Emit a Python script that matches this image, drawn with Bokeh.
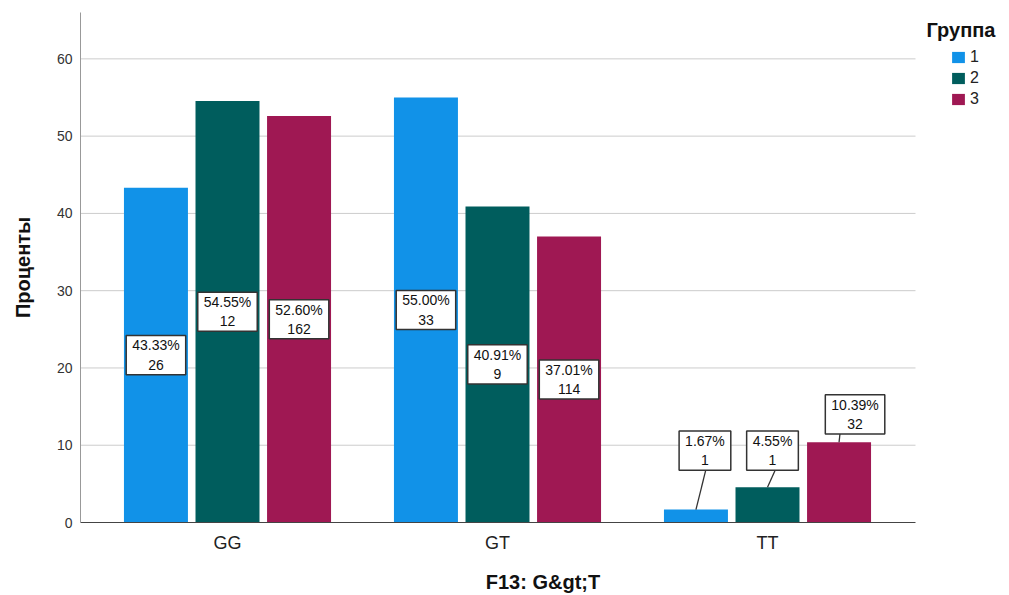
from bokeh.plotting import figure
from bokeh.models import (Range1d, ColumnDataSource, Legend, LegendItem,
                          Label, FixedTicker)
from bokeh.core.properties import value
from bokeh.embed import file_html
from bokeh.resources import INLINE

# ---- data ----
categories = ["GG", "GT", "TT"]
groups = ["1", "2", "3"]
pct_group1 = [43.33, 55.00, 1.67]
pct_group2 = [54.55, 40.91, 4.55]
pct_group3 = [52.60, 37.01, 10.39]
cnt_group1 = [26, 33, 1]
cnt_group2 = [12, 9, 1]
cnt_group3 = [162, 114, 32]
y_ticks = [0, 10, 20, 30, 40, 50, 60]

colors = ["#1192e8", "#005d5d", "#9f1853"]
FONT = "Liberation Sans"

# ---- layout ----
W, H = 1005, 595
LEFT, TOP = 80, 12
FRAME_W = W - LEFT            # frame reaches the right edge (legend lives inside it)
FRAME_H = 510
Y_MAX = 66
CAT_PX = 270.0                # pixel width of one category slot
START = -12 / CAT_PX
END = START + FRAME_W / CAT_PX
PLOT_END = START + 835 / CAT_PX   # end of the visible plotting area (grid / axis)
px_per_unit = FRAME_H / Y_MAX

cat_pos = [i + 0.5 for i in range(len(categories))]

p = figure(width=W, height=H, output_backend="svg", toolbar_location=None,
           x_range=Range1d(START, END), y_range=Range1d(0, Y_MAX),
           min_border_left=LEFT, min_border_right=0,
           min_border_top=TOP, min_border_bottom=H - TOP - FRAME_H)
p.outline_line_color = None
p.background_fill_color = "white"

# gridlines limited to the plotting area
p.xgrid.grid_line_color = None
p.ygrid.grid_line_color = None
gl = [t for t in y_ticks if t > 0]
p.segment(x0=[START] * len(gl), y0=gl, x1=[PLOT_END] * len(gl), y1=gl,
          line_color="#cccccc", line_width=1)

offsets = [-0.265, 0.0, 0.265]
bar_w = 0.237
pcts = [pct_group1, pct_group2, pct_group3]
cnts = [cnt_group1, cnt_group2, cnt_group3]

# label placement for small bars (above bar, with leader line):
# group index -> (label centre y, label x shift px, leader-top x shift px)
small_layout = {0: (9.3, 9, 10), 1: (9.3, 5, 8), 2: (14.0, 16, 1)}
box_half = 18.8 / px_per_unit

renderers = []
for gi in range(3):
    xs = [c + offsets[gi] for c in cat_pos]
    src = ColumnDataSource(dict(x=xs, val=pcts[gi]))
    r = p.vbar(x="x", top="val", width=bar_w, source=src,
               fill_color=colors[gi], line_color=None)
    renderers.append(r)

    lx, ly, lt = [], [], []
    for ci, cat in enumerate(categories):
        v = pcts[gi][ci]
        t = f"{v:.2f}%\n{cnts[gi][ci]}"
        if cat == "TT":
            y_lab, dx, dline = small_layout[gi]
            x_lab = xs[ci] + dx / CAT_PX
            p.segment(x0=[xs[ci] + dline / CAT_PX], y0=[y_lab - box_half],
                      x1=[xs[ci]], y1=[v], line_color="#333333", line_width=1.3)
        else:
            x_lab = xs[ci]
            y_lab = v / 2
        lx.append(x_lab); ly.append(y_lab); lt.append(t)
    tsrc = ColumnDataSource(dict(x=lx, y=ly, t=lt))
    p.text(x="x", y="y", text="t", source=tsrc,
           text_font=value(FONT), text_font_size="14px", text_color="#111111",
           text_align="center", text_baseline="middle", text_line_height=1.2,
           background_fill_color="white", border_line_color="#333333",
           border_line_width=1.5, padding=(6, 2))

# axes
p.yaxis.ticker = FixedTicker(ticks=y_ticks)
p.yaxis.axis_line_color = "#999999"
p.yaxis.major_tick_line_color = None
p.yaxis.minor_tick_line_color = None
p.yaxis.major_tick_out = 0
p.yaxis.major_tick_in = 0
p.yaxis.major_label_standoff = 8
p.yaxis.major_label_text_font = FONT
p.yaxis.major_label_text_font_size = "14px"
p.yaxis.major_label_text_color = "#333333"
p.yaxis.axis_label = "Проценты"
p.yaxis.axis_label_text_font = FONT
p.yaxis.axis_label_text_font_size = "20px"
p.yaxis.axis_label_text_font_style = "bold"
p.yaxis.axis_label_text_color = "#111111"
p.yaxis.axis_label_standoff = 20

p.xaxis.ticker = FixedTicker(ticks=cat_pos)
p.xaxis.major_label_overrides = {pos: c for pos, c in zip(cat_pos, categories)}
p.xaxis.bounds = (START, PLOT_END)
p.xaxis.axis_line_color = "#444444"
p.xaxis.major_tick_line_color = None
p.xaxis.minor_tick_line_color = None
p.xaxis.major_tick_out = 0
p.xaxis.major_tick_in = 0
p.xaxis.major_label_standoff = 10
p.xaxis.major_label_text_font = FONT
p.xaxis.major_label_text_font_size = "18px"
p.xaxis.major_label_text_color = "#222222"
p.xaxis.axis_label = "F13: G&gt;T"
p.xaxis.axis_label_text_font = FONT
p.xaxis.axis_label_text_font_size = "20px"
p.xaxis.axis_label_text_font_style = "bold"
p.xaxis.axis_label_text_color = "#111111"
p.xaxis.axis_label_standoff = 15

# legend
items = [LegendItem(label=g, renderers=[r]) for g, r in zip(groups, renderers)]
legend = Legend(items=items, location=(870, 414), padding=0, margin=0, spacing=3,
                glyph_width=16, glyph_height=14, label_height=16, label_standoff=4,
                label_text_font=FONT, label_text_font_size="16px",
                label_text_color="#222222",
                border_line_color=None, background_fill_alpha=0)
p.add_layout(legend, "center")
title = Label(x=846, y=493, x_units="screen", y_units="screen", text="Группа",
              text_font=FONT, text_font_size="20px", text_font_style="bold",
              text_color="#111111", text_baseline="middle")
p.add_layout(title)

open("out.html", "w").write(file_html(p, INLINE))
